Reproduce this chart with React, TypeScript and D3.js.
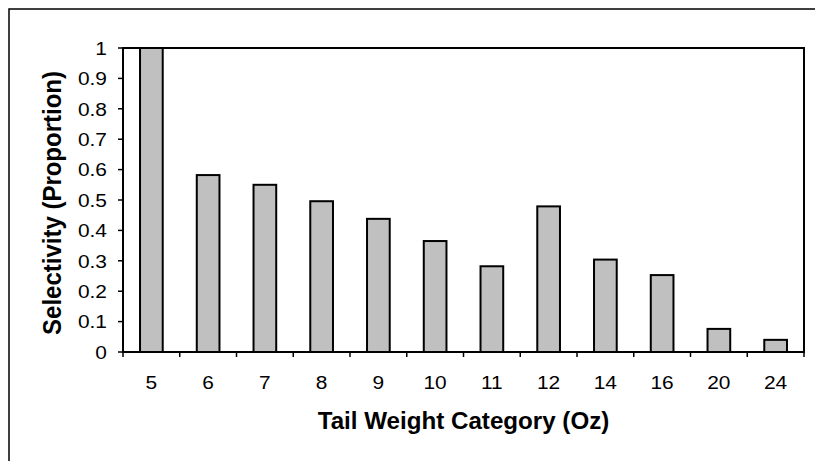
import React from "react";
import * as d3 from "d3";

const categories = ["5", "6", "7", "8", "9", "10", "11", "12", "14", "16", "20", "24"];
const values = [1.0, 0.582, 0.55, 0.496, 0.438, 0.365, 0.282, 0.479, 0.304, 0.253, 0.076, 0.04];
const yTicks = [0, 0.1, 0.2, 0.3, 0.4, 0.5, 0.6, 0.7, 0.8, 0.9, 1];

export default function App() {
  const W = 815, H = 461;
  const left = 123, right = 804, top = 48, bottom = 352;
  const x = d3.scaleBand<string>().domain(categories).range([left, right]).paddingInner(0.6).paddingOuter(0.3);
  const band = d3.scaleBand<string>().domain(categories).range([left, right]);
  const y = d3.scaleLinear().domain([0, 1]).range([bottom, top]);
  const font = "'Liberation Sans', Arial, sans-serif";
  const sx = 1.1;
  return (
    <svg width={W} height={H} style={{ position: "absolute", left: 0, top: 0 }}>
      <rect x={0} y={0} width={W} height={H} fill="#fff" />
      <rect x={9} y={9} width={W + 20} height={H + 20} fill="none" stroke="#000" strokeWidth={1.5} />
      <rect x={left} y={top} width={right - left} height={bottom - top} fill="#fff" stroke="#000" strokeWidth={2} />
      {categories.map((c, i) => (
        <rect key={c} x={x(c)} y={y(values[i])} width={x.bandwidth()} height={bottom - y(values[i])}
          fill="#c0c0c0" stroke="#000" strokeWidth={2} />
      ))}
      {yTicks.map((t) => (
        <g key={t}>
          <line x1={left - 5} x2={left} y1={y(t)} y2={y(t)} stroke="#000" strokeWidth={1.5} />
          <text transform={`translate(107,${y(t)}) scale(${sx},1)`} dy="0.36em" textAnchor="end" fontFamily={font} fontSize={19} fill="#000">{t}</text>
        </g>
      ))}
      {categories.map((c) => (
        <line key={"t" + c} x1={band(c)} x2={band(c)} y1={bottom} y2={bottom + 5} stroke="#000" strokeWidth={1.5} />
      ))}
      <line x1={right} x2={right} y1={bottom} y2={bottom + 5} stroke="#000" strokeWidth={1.5} />
      <line x1={left} x2={right} y1={bottom} y2={bottom} stroke="#000" strokeWidth={2} />
      {categories.map((c) => (
        <text key={"l" + c} transform={`translate(${band(c)! + band.bandwidth() / 2},389) scale(${sx},1)`} textAnchor="middle" fontFamily={font} fontSize={19} fill="#000">{c}</text>
      ))}
      <text transform={`translate(${(left + right) / 2},429) scale(1.05,1)`} textAnchor="middle" fontFamily={font} fontSize={23} fontWeight="bold" fill="#000">Tail Weight Category (Oz)</text>
      <text transform={`translate(61,203) scale(1.1,1) rotate(-90)`} textAnchor="middle" fontFamily={font} fontSize={24} fontWeight="bold" fill="#000">Selectivity (Proportion)</text>
    </svg>
  );
}
